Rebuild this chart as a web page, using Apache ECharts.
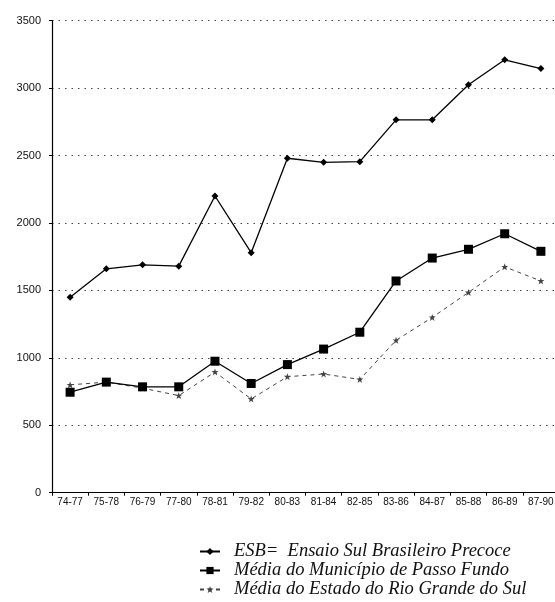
<!DOCTYPE html>
<html><head><meta charset="utf-8">
<script src="https://cdn.jsdelivr.net/npm/echarts@6/dist/echarts.min.js"></script>
<style>html,body{margin:0;padding:0;background:#fff}#c{width:555px;height:602px}</style>
</head><body><div id="c"></div>
<script>
const categories = ['74-77','75-78','76-79','77-80','78-81','79-82','80-83','81-84','82-85','83-86','84-87','85-88','86-89','87-90'];
const esb = [1450,1660,1690,1680,2200,1780,2480,2450,2455,2765,2765,3025,3210,3145];
const passoFundo = [745,820,785,785,975,810,950,1065,1190,1570,1740,1805,1920,1790];
const rioGrande = [800,820,775,720,895,695,860,880,840,1130,1300,1485,1675,1570];
const yTicks = [0,500,1000,1500,2000,2500,3000,3500];
const seriesNames = ['ESB=  Ensaio Sul Brasileiro Precoce','Média do Município de Passo Fundo','Média do Estado do Rio Grande do Sul'];

const starPath = 'path://M0,-10 L2.5,-3 L10,-3 L4,1.5 L6.5,9 L0,4.5 L-6.5,9 L-4,1.5 L-10,-3 L-2.5,-3 Z';

const legendTops = [542, 561, 580];
const legends = seriesNames.map(function(n, i){
  return {
    orient:'vertical', left:199, top:legendTops[i], padding:0, itemGap:0, itemWidth:20, itemHeight:9,
    textStyle:{fontFamily:'Liberation Serif', fontStyle:'italic', fontSize:18.5, lineHeight:18, color:'#111', padding:[0,0,0,9]},
    data:[n]
  };
});

const chart = echarts.init(document.getElementById('c'), null, {renderer:'canvas'});
chart.setOption({
  animation:false,
  backgroundColor:'#fff',
  grid:{left:52, right:-4, top:20.7, bottom:109.3, outerBoundsMode:'none', containLabel:false},
  xAxis:{
    type:'category', data:categories, boundaryGap:true,
    axisLine:{lineStyle:{color:'#000', width:1.2}},
    axisTick:{show:true, length:3, lineStyle:{color:'#000'}},
    axisLabel:{color:'#111', fontFamily:'Liberation Sans', fontSize:10, margin:5, interval:0},
    splitLine:{show:false}
  },
  yAxis:{
    type:'value', min:yTicks[0], max:yTicks[yTicks.length-1], interval:500,
    axisLine:{show:true, lineStyle:{color:'#000', width:1.2}},
    axisTick:{show:true, length:3, lineStyle:{color:'#000'}},
    axisLabel:{color:'#111', fontFamily:'Liberation Sans', fontSize:11, margin:11, formatter:function(v){return String(v);}},
    splitLine:{show:true, lineStyle:{color:'#444', width:1, type:[1.5,5]}}
  },
  legend:legends,
  series:[
    {name:seriesNames[0], type:'line', data:esb, symbol:'diamond', symbolSize:7,
     itemStyle:{color:'#000'}, lineStyle:{color:'#000', width:1.3}, z:3},
    {name:seriesNames[1], type:'line', data:passoFundo, symbol:'rect', symbolSize:9,
     itemStyle:{color:'#000'}, lineStyle:{color:'#000', width:1.3}, z:2},
    {name:seriesNames[2], type:'line', data:rioGrande, symbol:starPath, symbolSize:7,
     itemStyle:{color:'#444'}, lineStyle:{color:'#444', width:1, type:[4,4]}, z:1}
  ]
});
</script></body></html>
